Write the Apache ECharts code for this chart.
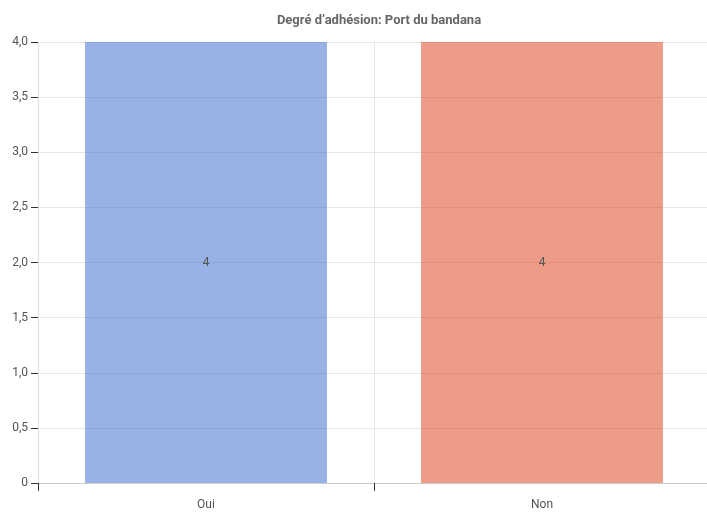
<!DOCTYPE html>
<html><head><meta charset="utf-8">
<script src="https://cdn.jsdelivr.net/npm/echarts@6/dist/echarts.min.js"></script>
<style>html,body{margin:0;padding:0;background:#fff;overflow:hidden}#c{width:710px;height:515px}</style>
</head><body><div id="c"></div>
<script>
const titleText = "Degré d’adhésion: Port du bandana";
const categories = ["Oui", "Non"];
const values = [4, 4];
const barColors = ["rgba(51,102,204,0.5)", "rgba(220,57,18,0.5)"];
const yMin = 0, yMax = 4, yStep = 0.5;

const FONT = "'Liberation Sans Narrow', 'Roboto', sans-serif";
const chart = echarts.init(document.getElementById('c'), null, {renderer: 'canvas'});
chart.setOption({
  animation: false,
  title: {text: titleText, left: 374, top: 9, textAlign: 'center',
    textStyle: {fontFamily: FONT, fontSize: 13, fontWeight: 'bold', color: '#666'}},
  grid: {left: 38, right: 0, top: 42, bottom: 32, containLabel: false},
  xAxis: {type: 'category', data: categories,
    axisLine: {lineStyle: {color: '#ccc'}},
    axisTick: {show: true, length: 8, lineStyle: {color: '#333'}},
    splitLine: {show: true, lineStyle: {color: '#e6e6e6'}},
    axisLabel: {fontFamily: FONT, fontSize: 12, color: '#555', margin: 16}},
  yAxis: {type: 'value', min: yMin, max: yMax, interval: yStep,
    axisLine: {show: true, lineStyle: {color: '#ddd'}},
    axisTick: {show: true, length: 7, lineStyle: {color: '#333'}},
    splitLine: {lineStyle: {color: '#e6e6e6'}},
    axisLabel: {fontFamily: FONT, fontSize: 12, color: '#555', margin: 10,
      formatter: v => v === 0 ? '0' : v.toFixed(1).replace('.', ',')}},
  series: [{type: 'bar', barWidth: '72%',
    data: values.map((v, i) => ({value: v, itemStyle: {color: barColors[i]}})),
    label: {show: true, position: 'inside', fontFamily: FONT, fontSize: 12, color: '#555'},
    z: 1}]
});
</script></body></html>
